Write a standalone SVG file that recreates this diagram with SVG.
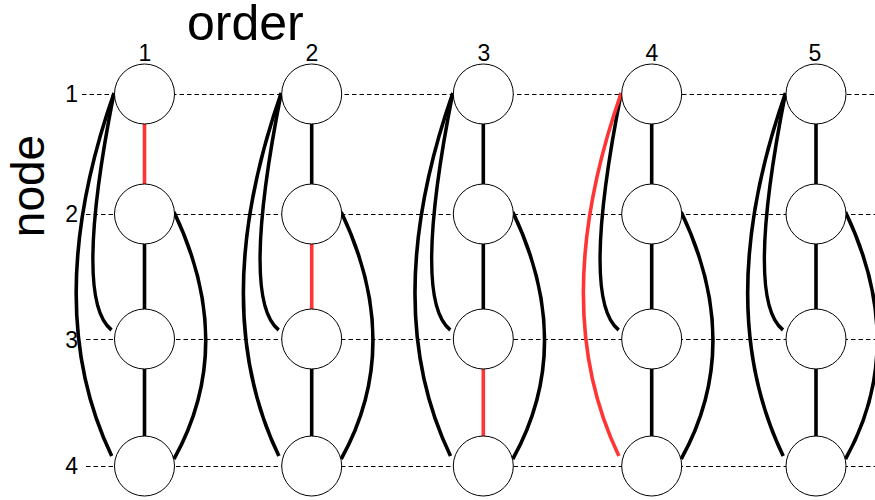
<svg xmlns="http://www.w3.org/2000/svg" width="875" height="500" viewBox="0 0 875 500">
  <style>
    .title { font-family: "Liberation Sans", Arial, sans-serif; font-size: 50px; fill: #000; }
    .num { font-family: "Liberation Sans", Arial, sans-serif; font-size: 23px; fill: #000; }
    .grid { stroke: #000; stroke-width: 1; stroke-dasharray: 4.5 3; fill: none; }
    .edge { stroke: #000; stroke-width: 3.6; fill: none; }
    .hot { stroke: #ff3535; }
    .node circle { fill: #fff; stroke: #000; stroke-width: 1; }
  </style>
  <defs>
    <!-- one column of edges, drawn around x = 0 -->
    <g id="vert12"><line x1="0" y1="94" x2="0" y2="214"/></g>
    <g id="vert23"><line x1="0" y1="214" x2="0" y2="339"/></g>
    <g id="vert34"><line x1="0" y1="339" x2="0" y2="466"/></g>
    <g id="arc13"><path d="M -30.5 93 Q -71.5 300 -33 330"/></g>
    <g id="arc14"><path d="M -30.5 93 Q -105 306 -32.8 456"/></g>
    <g id="arc24"><path d="M 29.5 212 Q 93 345 29.5 459"/></g>
  </defs>

  <!-- axis titles -->
  <text class="title" x="187" y="40">order</text>
  <text class="title" transform="translate(43.5 186) rotate(-90)" text-anchor="middle" style="font-size:46px">node</text>

  <!-- row labels -->
  <g class="num" text-anchor="end">
    <text x="78" y="102">1</text>
    <text x="78" y="222">2</text>
    <text x="78" y="348">3</text>
    <text x="78" y="474">4</text>
  </g>

  <!-- column labels -->
  <g class="num" text-anchor="middle">
    <text x="145" y="61">1</text>
    <text x="312" y="61">2</text>
    <text x="484" y="61">3</text>
    <text x="652" y="61">4</text>
    <text x="815" y="61">5</text>
  </g>

  <!-- dashed row guides -->
  <g id="guides" class="grid">
    <line x1="82" y1="94.5" x2="875" y2="94.5"/>
    <line x1="86" y1="214.5" x2="875" y2="214.5"/>
    <line x1="86" y1="339.5" x2="875" y2="339.5"/>
    <line x1="86" y1="466.5" x2="875" y2="466.5"/>
  </g>

  <!-- connectors -->
  <g id="connectors" class="edge">
    <!-- column 1 -->
    <g transform="translate(144.5 0)">
      <use href="#vert12" class="hot"/>
      <use href="#vert23"/>
      <use href="#vert34"/>
      <use href="#arc13"/>
      <use href="#arc14"/>
      <use href="#arc24"/>
    </g>
    <!-- column 2 -->
    <g transform="translate(311.7 0)">
      <use href="#vert12"/>
      <use href="#vert23" class="hot"/>
      <use href="#vert34"/>
      <use href="#arc13"/>
      <use href="#arc14"/>
      <use href="#arc24"/>
    </g>
    <!-- column 3 -->
    <g transform="translate(483.3 0)">
      <use href="#vert12"/>
      <use href="#vert23"/>
      <use href="#vert34" class="hot"/>
      <use href="#arc13"/>
      <use href="#arc14"/>
      <use href="#arc24"/>
    </g>
    <!-- column 4 -->
    <g transform="translate(651.7 0)">
      <use href="#vert12"/>
      <use href="#vert23"/>
      <use href="#vert34"/>
      <use href="#arc13"/>
      <use href="#arc14" class="hot"/>
      <use href="#arc24"/>
    </g>
    <!-- column 5 -->
    <g transform="translate(816 0)">
      <use href="#vert12"/>
      <use href="#vert23"/>
      <use href="#vert34"/>
      <use href="#arc13"/>
      <use href="#arc14"/>
      <use href="#arc24"/>
    </g>
  </g>

  <!-- nodes: column c, row r -->
  <g id="n1-1" class="node"><circle cx="144.5" cy="94" r="30"/></g>
  <g id="n1-2" class="node"><circle cx="144.5" cy="214" r="30"/></g>
  <g id="n1-3" class="node"><circle cx="144.5" cy="339" r="30"/></g>
  <g id="n1-4" class="node"><circle cx="144.5" cy="466" r="30"/></g>

  <g id="n2-1" class="node"><circle cx="311.7" cy="94" r="30"/></g>
  <g id="n2-2" class="node"><circle cx="311.7" cy="214" r="30"/></g>
  <g id="n2-3" class="node"><circle cx="311.7" cy="339" r="30"/></g>
  <g id="n2-4" class="node"><circle cx="311.7" cy="466" r="30"/></g>

  <g id="n3-1" class="node"><circle cx="483.3" cy="94" r="30"/></g>
  <g id="n3-2" class="node"><circle cx="483.3" cy="214" r="30"/></g>
  <g id="n3-3" class="node"><circle cx="483.3" cy="339" r="30"/></g>
  <g id="n3-4" class="node"><circle cx="483.3" cy="466" r="30"/></g>

  <g id="n4-1" class="node"><circle cx="651.7" cy="94" r="30"/></g>
  <g id="n4-2" class="node"><circle cx="651.7" cy="214" r="30"/></g>
  <g id="n4-3" class="node"><circle cx="651.7" cy="339" r="30"/></g>
  <g id="n4-4" class="node"><circle cx="651.7" cy="466" r="30"/></g>

  <g id="n5-1" class="node"><circle cx="816" cy="94" r="30"/></g>
  <g id="n5-2" class="node"><circle cx="816" cy="214" r="30"/></g>
  <g id="n5-3" class="node"><circle cx="816" cy="339" r="30"/></g>
  <g id="n5-4" class="node"><circle cx="816" cy="466" r="30"/></g>
</svg>
